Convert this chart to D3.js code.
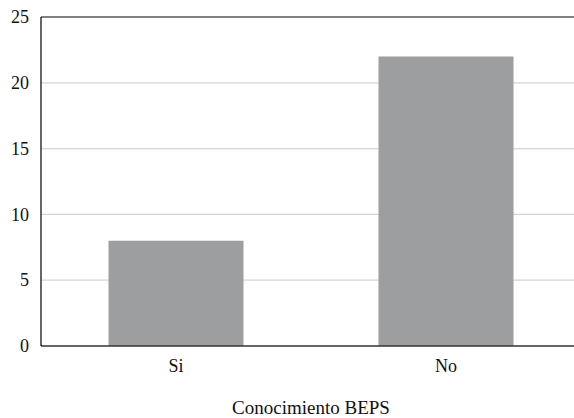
<!DOCTYPE html>
<html><head><meta charset="utf-8">
<script src="https://cdn.jsdelivr.net/npm/d3@7"></script>
<style>body{margin:0;background:#fff}</style>
</head><body>
<svg id="c" width="574" height="418"></svg>
<script>
const categories = ["Si", "No"];
const values = [8, 22];
const yTicks = [0, 5, 10, 15, 20, 25];
const xTitle = "Conocimiento BEPS";

(function () {
const svg = d3.select("#c");
const FONT = '"Liberation Serif"';
const mLeft = 41, mRight = 581, mTop = 17, mBottom = 346;
const x = d3.scaleBand().domain(categories).range([mLeft, mRight]).paddingInner(0.5).paddingOuter(0.25);
const y = d3.scaleLinear().domain([0, 25]).range([mBottom, mTop]);

svg.append("g").selectAll("line").data(yTicks.filter(d => d > 0 && d < 25)).join("line")
  .attr("x1", mLeft).attr("x2", 574).attr("y1", d => y(d)).attr("y2", d => y(d))
  .attr("stroke", "#d4d4d4").attr("stroke-width", 1.2);

svg.append("g").selectAll("rect").data(values).join("rect")
  .attr("x", (d, i) => x(categories[i])).attr("width", x.bandwidth())
  .attr("y", d => y(d)).attr("height", d => y(0) - y(d))
  .attr("fill", "#9d9e9f");

svg.append("line").attr("x1", mLeft).attr("x2", 574).attr("y1", y(25)).attr("y2", y(25)).attr("stroke", "#000").attr("stroke-width", 1);
svg.append("line").attr("x1", mLeft).attr("x2", 574).attr("y1", y(0)).attr("y2", y(0)).attr("stroke", "#333").attr("stroke-width", 1.5);
svg.append("line").attr("x1", mLeft).attr("x2", mLeft).attr("y1", y(25)).attr("y2", y(0)).attr("stroke", "#000").attr("stroke-width", 1.2);

const yAxis = d3.axisLeft(y).tickValues(yTicks).tickSize(0).tickPadding(12);
const gy = svg.append("g").attr("transform", `translate(${mLeft},0)`).call(yAxis);
gy.select(".domain").remove();
gy.selectAll("text").style("font-family", FONT).style("font-size", "18px").attr("fill", "#111");

const xAxis = d3.axisBottom(x).tickSize(0).tickPadding(13);
const gx = svg.append("g").attr("transform", `translate(0,${mBottom})`).call(xAxis);
gx.select(".domain").remove();
gx.selectAll("text").style("font-family", FONT).style("font-size", "18px").attr("fill", "#111");

svg.append("text").attr("x", (mLeft + mRight) / 2).attr("y", 414).attr("text-anchor", "middle")
  .style("font-family", FONT).style("font-size", "19px").attr("fill", "#111").text(xTitle);
})();
</script>
</body></html>
